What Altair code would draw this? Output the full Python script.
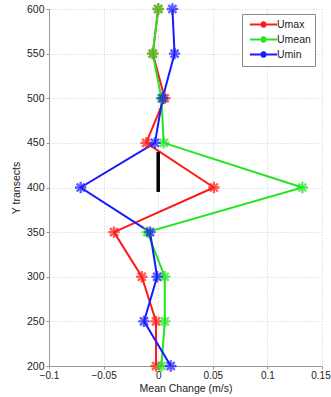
import altair as alt
import pandas as pd

y_transects = [600, 550, 500, 450, 400, 350, 300, 250, 200]
umax = [0.0, -0.005, 0.006, -0.011, 0.051, -0.0405, -0.015, -0.002, -0.002]
umean = [0.0, -0.005, 0.003, 0.005, 0.132, -0.010, 0.006, 0.006, 0.003]
umin = [0.013, 0.015, 0.004, -0.003, -0.071, -0.0075, -0.001, -0.013, 0.0115]
series_names = ["Umax", "Umean", "Umin"]
series_colors = ["#ff1a1a", "#22e522", "#1a1aff"]
bar_x = [0.0, 0.0]
bar_y = [395, 440]

rows = []
for name, vals in zip(series_names, [umax, umean, umin]):
    for i, (yv, xv) in enumerate(zip(y_transects, vals)):
        rows.append({"series": name, "y": yv, "x": xv, "order": i})
df = pd.DataFrame(rows)
bar_df = pd.DataFrame({"x": bar_x, "y": bar_y})

star = "M-1,0L1,0M0,-1L0,1M-0.7,-0.7L0.7,0.7M-0.7,0.7L0.7,-0.7"
legend_sym = "M-2.6,0L2.6,0M-0.6,0L0.6,0M0,-0.6L0,0.6M-0.42,-0.42L0.42,0.42M-0.42,0.42L0.42,-0.42"

xs = alt.Scale(domain=[-0.1, 0.15], nice=False)
ys = alt.Scale(domain=[200, 600], nice=False)
color = alt.Color("series:N", scale=alt.Scale(domain=series_names, range=series_colors),
                  legend=alt.Legend(title=None, orient="none", legendX=193, legendY=5,
                                    symbolType=legend_sym, symbolSize=110, symbolStrokeWidth=2,
                                    labelFontSize=10.5, labelFont="Liberation Sans", labelColor="#222",
                                    padding=4, strokeColor="#888", fillColor="white",
                                    rowPadding=0, symbolOffset=11, labelOffset=7))

common = dict(grid=True, gridDash=[1, 2], gridColor="#cccccc", domainColor="#999", tickColor="#999",
              tickSize=3, titleFontSize=10.5, labelColor="#222", titleColor="#222",
              labelFont="Liberation Sans", titleFont="Liberation Sans", titleFontWeight="normal",
              labelFlush=False)
xaxis = alt.Axis(values=[-0.1, -0.05, 0, 0.05, 0.1, 0.15], format=".2~f", title="Mean Change (m/s)",
                 labelFontSize=10, labelPadding=1, titlePadding=3,
                 labelOffset={"condition": {"test": "datum.value > 0.14", "value": -1.5}, "value": 0},
                 **common)
yaxis = alt.Axis(values=list(range(200, 601, 50)), title="Y transects",
                 labelFontSize=10.5, labelPadding=2, titlePadding=5, **common)

base = alt.Chart(df)
lines = base.mark_line(strokeWidth=2).encode(
    x=alt.X("x:Q", scale=xs, axis=xaxis),
    y=alt.Y("y:Q", scale=ys, axis=yaxis),
    color=color,
    detail="series:N",
    order="order:Q",
)
points = base.mark_point(shape=star, size=130, strokeWidth=2.4, filled=False).encode(
    x=alt.X("x:Q", scale=xs),
    y=alt.Y("y:Q", scale=ys),
    color=alt.Color("series:N", scale=alt.Scale(domain=series_names, range=series_colors), legend=None),
)
bar = alt.Chart(bar_df).mark_line(color="black", strokeWidth=3.5).encode(
    x=alt.X("x:Q", scale=xs),
    y=alt.Y("y:Q", scale=ys),
)

chart = alt.layer(lines, bar, points).properties(
    width=273, height=357,
    autosize=alt.AutoSizeParams(type="none"),
    padding={"left": 49, "top": 9, "right": 9, "bottom": 31},
    background="white",
).configure_view(stroke=None)

chart.save("out.html", embed_options={"renderer": "svg", "actions": False})
